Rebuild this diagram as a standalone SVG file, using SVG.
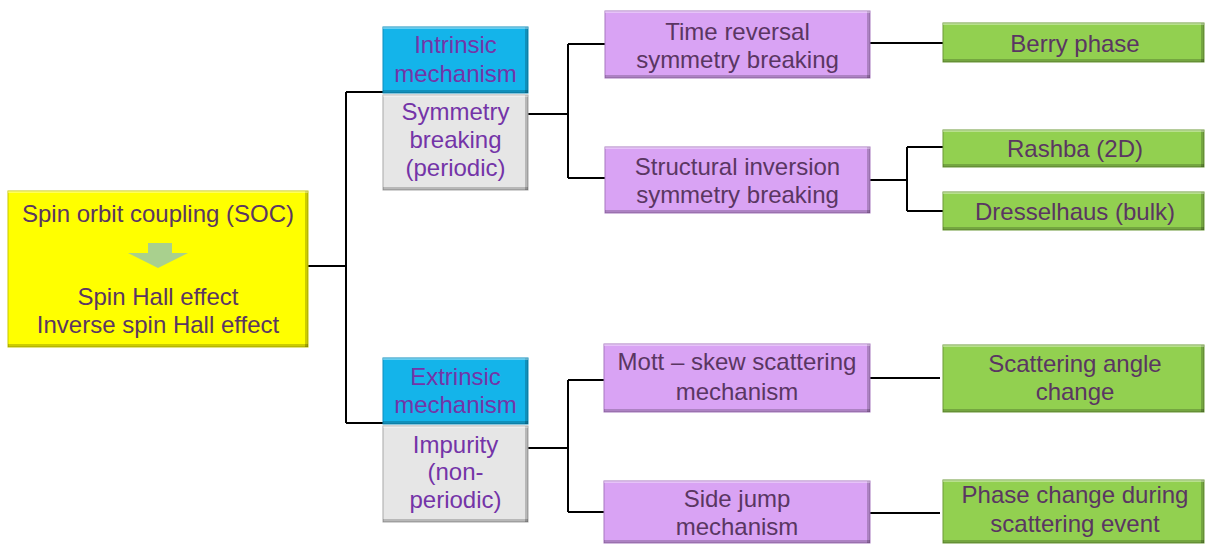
<svg xmlns="http://www.w3.org/2000/svg" width="1205" height="545" viewBox="0 0 1205 545">
<style>
text{font-family:"Liberation Sans",Arial,sans-serif;font-size:24px;text-anchor:middle}
.t1{fill:#5a3662}
.t2{fill:#7434a8}
.yel{fill:#ffff00;stroke:#c8c800;stroke-width:1}
.cya{fill:#14b4ea;stroke:#0c8dbd;stroke-width:1}
.gry{fill:#e6e6e6;stroke:#a8a8a8;stroke-width:1}
.pur{fill:#d9a3f4;stroke:#a878c0;stroke-width:1}
.grn{fill:#92d050;stroke:#6c9a38;stroke-width:1}
.sh{fill:#000;opacity:0.2}
.hl{fill:#fff;opacity:0.35}
.conn path{fill:none;stroke:#000;stroke-width:2}
</style>
<rect width="1205" height="545" fill="#fff"/>
<g class="conn" id="connectors">
<path d="M308 266H346M346 92V423M346 92H383M346 423H383"/>
<path d="M528 114H568M568 44V178M568 44H605M568 178H605"/>
<path d="M870 43H944"/>
<path d="M870 180H907M907 147V211M907 147H943M907 211H943"/>
<path d="M528 448H568M568 380V512M568 380H604M568 512H604"/>
<path d="M870 378H940M870 513H940"/>
</g>
<g id="soc">
<rect class="yel" x="8" y="191" width="300" height="156"/>
<rect class="sh" x="305" y="191" width="3" height="156"/><rect class="sh" x="8" y="344" width="300" height="3"/><rect class="hl" x="8" y="191" width="300" height="2"/>
<text class="t1" x="158" y="222">Spin orbit coupling (SOC)</text>
<polygon points="148,243 172,243 172,253 188,253 158,268 128,253 148,253" fill="#a9d08e"/>
<text class="t1" x="158" y="305">Spin Hall effect</text>
<text class="t1" x="158" y="333">Inverse spin Hall effect</text>
</g>
<g id="intrinsic">
<rect class="cya" x="383" y="27" width="145" height="66"/>
<rect class="sh" x="525" y="27" width="3" height="66"/><rect class="sh" x="383" y="90" width="145" height="3"/><rect class="hl" x="383" y="27" width="145" height="2"/>
<text class="t2" x="455.5" y="53">Intrinsic</text>
<text class="t2" x="455.5" y="82">mechanism</text>
</g>
<g id="symmetry">
<rect class="gry" x="383" y="95" width="145" height="95"/>
<rect class="sh" x="525" y="95" width="3" height="95"/><rect class="sh" x="383" y="187" width="145" height="3"/><rect class="hl" x="383" y="95" width="145" height="2"/>
<text class="t2" x="455.5" y="120">Symmetry</text>
<text class="t2" x="455.5" y="148">breaking</text>
<text class="t2" x="455.5" y="176">(periodic)</text>
</g>
<g id="extrinsic">
<rect class="cya" x="383" y="358" width="145" height="66"/>
<rect class="sh" x="525" y="358" width="3" height="66"/><rect class="sh" x="383" y="421" width="145" height="3"/><rect class="hl" x="383" y="358" width="145" height="2"/>
<text class="t2" x="455.5" y="385">Extrinsic</text>
<text class="t2" x="455.5" y="413">mechanism</text>
</g>
<g id="impurity">
<rect class="gry" x="383" y="426" width="145" height="96"/>
<rect class="sh" x="525" y="426" width="3" height="96"/><rect class="sh" x="383" y="519" width="145" height="3"/><rect class="hl" x="383" y="426" width="145" height="2"/>
<text class="t2" x="455.5" y="453">Impurity</text>
<text class="t2" x="455.5" y="480">(non-</text>
<text class="t2" x="455.5" y="508">periodic)</text>
</g>
<g id="trsb">
<rect class="pur" x="605" y="11" width="265" height="67"/>
<rect class="sh" x="867" y="11" width="3" height="67"/><rect class="sh" x="605" y="75" width="265" height="3"/><rect class="hl" x="605" y="11" width="265" height="2"/>
<text class="t1" x="737.5" y="40">Time reversal</text>
<text class="t1" x="737.5" y="68">symmetry breaking</text>
</g>
<g id="sisb">
<rect class="pur" x="605" y="147" width="265" height="66"/>
<rect class="sh" x="867" y="147" width="3" height="66"/><rect class="sh" x="605" y="210" width="265" height="3"/><rect class="hl" x="605" y="147" width="265" height="2"/>
<text class="t1" x="737.5" y="175">Structural inversion</text>
<text class="t1" x="737.5" y="203">symmetry breaking</text>
</g>
<g id="mott">
<rect class="pur" x="604" y="344" width="266" height="68"/>
<rect class="sh" x="867" y="344" width="3" height="68"/><rect class="sh" x="604" y="409" width="266" height="3"/><rect class="hl" x="604" y="344" width="266" height="2"/>
<text class="t1" x="737" y="370">Mott – skew scattering</text>
<text class="t1" x="737" y="400">mechanism</text>
</g>
<g id="sidejump">
<rect class="pur" x="604" y="481" width="266" height="62"/>
<rect class="sh" x="867" y="481" width="3" height="62"/><rect class="sh" x="604" y="540" width="266" height="3"/><rect class="hl" x="604" y="481" width="266" height="2"/>
<text class="t1" x="737" y="507">Side jump</text>
<text class="t1" x="737" y="535">mechanism</text>
</g>
<g id="berry">
<rect class="grn" x="943" y="23" width="261" height="39"/>
<rect class="sh" x="1201" y="23" width="3" height="39"/><rect class="sh" x="943" y="59" width="261" height="3"/><rect class="hl" x="943" y="23" width="261" height="2"/>
<text class="t1" x="1075" y="52">Berry phase</text>
</g>
<g id="rashba">
<rect class="grn" x="943" y="130" width="261" height="37"/>
<rect class="sh" x="1201" y="130" width="3" height="37"/><rect class="sh" x="943" y="164" width="261" height="3"/><rect class="hl" x="943" y="130" width="261" height="2"/>
<text class="t1" x="1075" y="157">Rashba (2D)</text>
</g>
<g id="dresselhaus">
<rect class="grn" x="943" y="192" width="261" height="38"/>
<rect class="sh" x="1201" y="192" width="3" height="38"/><rect class="sh" x="943" y="227" width="261" height="3"/><rect class="hl" x="943" y="192" width="261" height="2"/>
<text class="t1" x="1075" y="220">Dresselhaus (bulk)</text>
</g>
<g id="scattering">
<rect class="grn" x="943" y="345" width="261" height="67"/>
<rect class="sh" x="1201" y="345" width="3" height="67"/><rect class="sh" x="943" y="409" width="261" height="3"/><rect class="hl" x="943" y="345" width="261" height="2"/>
<text class="t1" x="1075" y="372">Scattering angle</text>
<text class="t1" x="1075" y="400">change</text>
</g>
<g id="phase">
<rect class="grn" x="943" y="480" width="261" height="63"/>
<rect class="sh" x="1201" y="480" width="3" height="63"/><rect class="sh" x="943" y="540" width="261" height="3"/><rect class="hl" x="943" y="480" width="261" height="2"/>
<text class="t1" x="1075" y="503">Phase change during</text>
<text class="t1" x="1075" y="532">scattering event</text>
</g>
</svg>
